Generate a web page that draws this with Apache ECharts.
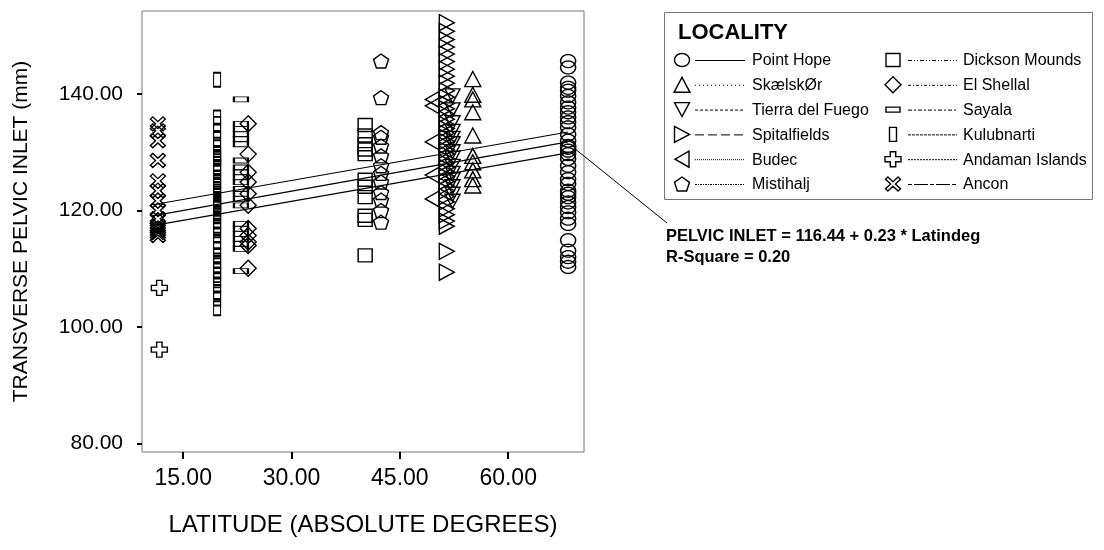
<!DOCTYPE html>
<html>
<head>
<meta charset="utf-8">
<script src="https://cdn.jsdelivr.net/npm/echarts@6/dist/echarts.min.js"></script>
<style>html,body{margin:0;padding:0;background:#fff}#c{width:1104px;height:550px}</style>
</head>
<body>
<div id="c"></div>
<script>
// ---------- DATA ----------
const xTicks = [15, 30, 45, 60];
const yTicks = [80, 100, 120, 140];

const localities = ['Point Hope', 'SkælskØr', 'Tierra del Fuego', 'Spitalfields', 'Budec', 'Mistihalj',
                    'Dickson Mounds', 'El Shellal', 'Sayala', 'Kulubnarti', 'Andaman Islands', 'Ancon'];

// latitude (absolute degrees) of each locality
const latPointHope = 68.3;
const latSkaelskor = 55.1;
const latTierra = 52.3;
const latSpitalfields = 51.5;
const latBudec = 49.5;
const latMistihalj = 42.4;
const latDickson = 40.2;
const latElShellal = 24.0;
const latSayala = 23.0;
const latKulubnarti = 19.7;
const latAndaman = 11.7;
const latAncon = 11.5;

// transverse pelvic inlet (mm)
const pointHope = [145.7, 144.6, 142.0, 141.1, 140.6, 139.7, 138.6, 137.7, 136.9, 136.0, 135.2, 134.3, 133.1,
  132.0, 131.1, 130.3, 129.7, 128.9, 127.7, 126.6, 125.4, 124.6, 123.4, 122.3, 121.4, 120.6, 119.7, 118.6,
  117.7, 114.9, 113.1, 112.0, 111.2, 110.3, 130.8, 122.9];
const skaelskor = [142.6, 139.9, 139.1, 136.9, 132.9, 129.4, 128.3, 126.9, 125.4, 124.3];
const tierra = [139.7, 137.3, 135.1, 133.6, 132.4, 131.5, 130.1, 129.0, 127.6, 126.4, 125.3, 124.1, 122.8, 121.6];
const spitalfields = [152.3, 150.8, 149.4, 148.1, 146.9, 145.6, 144.3, 143.1, 141.9, 140.6, 139.5, 138.4, 137.5,
  136.6, 135.7, 134.8, 134.1, 133.3, 132.6, 131.9, 131.2, 130.4, 129.7, 128.9, 128.2, 127.4, 126.7, 125.9,
  125.0, 124.2, 123.4, 122.4, 121.5, 120.3, 119.3, 118.2, 117.3, 113.0, 109.4];
const budec = [139.1, 138.0, 131.8, 126.1, 122.0];
const mistihalj = [145.7, 139.4, 133.4, 132.6, 131.1, 129.4, 127.7, 126.4, 124.9, 123.1, 121.8, 120.0, 118.0];
const dickson = [134.7, 132.9, 131.4, 130.5, 129.7, 125.3, 124.1, 122.3, 119.1, 118.4, 112.3];
const elShellal = [134.9, 129.7, 126.6, 124.9, 122.9, 120.9, 116.9, 115.7, 114.6, 114.0, 110.1];
const sayala = [139.1, 134.9, 134.0, 133.1, 132.3, 131.4, 128.6, 127.4, 126.6, 125.7, 124.9, 123.7, 122.9, 122.0,
  120.9, 117.7, 116.9, 116.0, 115.1, 114.3, 113.4, 109.6];
const kulubnarti = [142.5, 136.0, 134.9, 133.7, 132.3, 130.9, 129.7, 129.2, 128.9, 128.0, 127.5, 126.9, 125.7,
  124.9, 124.2, 123.7, 122.9, 122.0, 121.6, 121.1, 120.8, 120.3, 119.5, 119.1, 118.3, 117.4, 116.6, 115.7,
  114.6, 113.4, 112.3, 111.4, 110.6, 109.7, 108.9, 108.0, 107.1, 106.0, 104.9, 103.2];
const andaman = [106.7, 96.1];
const ancon = [134.9, 133.7, 132.0, 128.6, 125.1, 123.4, 121.7, 120.0, 118.6, 117.4, 117.0, 116.6, 116.2, 115.7];

// regression line and its band: [latitude, mm] end points
const fitLine = [[10.8, 119.1], [68.3, 131.8]];
const upperLine = [[10.8, 121.0], [68.3, 133.5]];
const lowerLine = [[10.8, 117.4], [68.3, 129.9]];

const equationText = 'PELVIC INLET = 116.44 + 0.23 * Latindeg';
const rSquareText = 'R-Square = 0.20';

// ---------- STYLE ----------
const FONT = '"Liberation Sans", Arial, Helvetica, sans-serif';
const ellipsePts = [];
for (let k = 0; k < 32; k++) {
  const a = k / 32 * Math.PI * 2;
  ellipsePts.push([5 + 5 * Math.cos(a), 5 + 5 * Math.sin(a)]);
}
const SH = {
  circle: ellipsePts,
  triUp: [[5, 0], [10, 10], [0, 10]],
  triDown: [[0, 0], [10, 0], [5, 10]],
  triRight: [[0, 0], [10, 5], [0, 10]],
  triLeft: [[10, 0], [0, 5], [10, 10]],
  pentagon: [[5, 0], [10, 3.8], [8.1, 10], [1.9, 10], [0, 3.8]],
  rect: [[0, 0], [10, 0], [10, 10], [0, 10]],
  diamond: [[5, 0], [10, 5], [5, 10], [0, 5]],
  plus: [[3.3, 0], [6.7, 0], [6.7, 3.3], [10, 3.3], [10, 6.7], [6.7, 6.7], [6.7, 10], [3.3, 10], [3.3, 6.7], [0, 6.7], [0, 3.3], [3.3, 3.3]],
  cross: [[0, 1.6], [1.6, 0], [5, 3.4], [8.4, 0], [10, 1.6], [6.6, 5], [10, 8.4], [8.4, 10], [5, 6.6], [1.6, 10], [0, 8.4], [3.4, 5]]
};
function toPath(pts) {
  return 'path://' + pts.map((p, i) => (i ? 'L' : 'M') + p[0].toFixed(3) + ',' + p[1].toFixed(3)).join(' ') + ' Z';
}
const seriesDefs = [
  {name: localities[0], lat: latPointHope, vals: pointHope, sym: SH.circle, size: [15, 13], dash: null},
  {name: localities[1], lat: latSkaelskor, vals: skaelskor, sym: SH.triUp, size: [16, 15], dash: [1, 3]},
  {name: localities[2], lat: latTierra, vals: tierra, sym: SH.triDown, size: [15, 14], dash: [3, 2]},
  {name: localities[3], lat: latSpitalfields, vals: spitalfields, sym: SH.triRight, size: [15, 16], dash: [9, 4]},
  {name: localities[4], lat: latBudec, vals: budec, sym: SH.triLeft, size: [14, 16], dash: [1, 1]},
  {name: localities[5], lat: latMistihalj, vals: mistihalj, sym: SH.pentagon, size: [15, 14], dash: [2, 1, 1, 1]},
  {name: localities[6], lat: latDickson, vals: dickson, sym: SH.rect, size: [14, 13], dash: [4, 2, 1, 2, 1, 2]},
  {name: localities[7], lat: latElShellal, vals: elShellal, sym: SH.diamond, size: [16, 16], dash: [3, 2, 1, 2]},
  {name: localities[8], lat: latSayala, vals: sayala, sym: SH.rect, size: [14, 5], dash: [4, 2, 2, 2]},
  {name: localities[9], lat: latKulubnarti, vals: kulubnarti, sym: SH.rect, size: [7, 14], dash: [3, 1]},
  {name: localities[10], lat: latAndaman, vals: andaman, sym: SH.plus, size: [16, 15], dash: [2, 1]},
  {name: localities[11], lat: latAncon, vals: ancon, sym: SH.cross, size: [15, 14], dash: [4, 2, 14, 2]}
];

const series = seriesDefs.map(d => ({
  name: d.name,
  type: 'scatter',
  data: d.vals.map(v => [d.lat, v]),
  symbol: toPath(d.sym),
  symbolSize: d.size,
  symbolKeepAspect: false,
  itemStyle: {color: 'rgba(0,0,0,0)', borderColor: '#000', borderWidth: 1.4, opacity: 1},
  emphasis: {disabled: true},
  silent: true,
  z: 3
}));
[fitLine, upperLine, lowerLine].forEach((ln, i) => {
  series.push({
    name: ['fit', 'upper', 'lower'][i],
    type: 'line',
    data: ln,
    showSymbol: false,
    symbol: 'none',
    lineStyle: {color: '#000', width: 1.2},
    silent: true,
    z: 2
  });
});

// ---------- LEGEND (graphic) ----------
const graphic = [];
graphic.push({type: 'rect', shape: {x: 664.5, y: 12.5, width: 428, height: 187},
  style: {fill: '#fff', stroke: '#777', lineWidth: 1}, silent: true, z: 10});
graphic.push({type: 'text', x: 678, y: 33, silent: true, z: 11,
  style: {text: 'LOCALITY', font: 'bold 22px ' + FONT, fill: '#000', verticalAlign: 'middle', align: 'left'}});
seriesDefs.forEach((d, i) => {
  const col = i < 6 ? 0 : 1;
  const row = i % 6;
  const cy = 60 + row * 24.8;
  const sx = col === 0 ? 682 : 893;
  const lx1 = col === 0 ? 695 : 908;
  const lx2 = col === 0 ? 745 : 957;
  const tx = col === 0 ? 752 : 963;
  const pts = d.sym.map(p => [sx - d.size[0] / 2 + p[0] / 10 * d.size[0], cy - d.size[1] / 2 + p[1] / 10 * d.size[1]]);
  graphic.push({type: 'polygon', silent: true, z: 11,
    shape: {points: pts},
    style: {fill: 'rgba(0,0,0,0)', stroke: '#000', lineWidth: 1.4}});
  graphic.push({type: 'line', silent: true, z: 11,
    shape: {x1: lx1, y1: cy + 0.5, x2: lx2, y2: cy + 0.5},
    style: {stroke: '#000', lineWidth: 1, lineDash: d.dash || null}});
  graphic.push({type: 'text', x: tx, y: cy + 1, silent: true, z: 11,
    style: {text: d.name, font: '16px ' + FONT, fill: '#000', verticalAlign: 'middle', align: 'left'}});
});
// annotation
graphic.push({type: 'line', silent: true, z: 11, shape: {x1: 574, y1: 148, x2: 667, y2: 223},
  style: {stroke: '#000', lineWidth: 1}});
graphic.push({type: 'text', x: 666, y: 236, silent: true, z: 11,
  style: {text: equationText, font: 'bold 16.5px ' + FONT, fill: '#000', verticalAlign: 'middle', align: 'left'}});
graphic.push({type: 'text', x: 666, y: 257, silent: true, z: 11,
  style: {text: rSquareText, font: 'bold 16.5px ' + FONT, fill: '#000', verticalAlign: 'middle', align: 'left'}});

// ---------- CHART ----------
const chart = echarts.init(document.getElementById('c'), null, {renderer: 'canvas'});
chart.setOption({
  animation: false,
  backgroundColor: '#fff',
  textStyle: {fontFamily: FONT},
  grid: {left: 142, top: 11, width: 442, height: 441, show: true, borderColor: '#777', borderWidth: 1},
  xAxis: {
    type: 'value', min: 9.3, max: 70.5,
    name: 'LATITUDE (ABSOLUTE DEGREES)', nameLocation: 'middle', nameGap: 61,
    nameTextStyle: {fontSize: 24, color: '#000', fontFamily: FONT},
    axisLine: {show: false}, splitLine: {show: false},
    axisTick: {show: true, length: 7, lineStyle: {color: '#000', width: 2}, customValues: xTicks},
    axisLabel: {customValues: xTicks, formatter: v => Number(v).toFixed(2), fontSize: 23, color: '#000', margin: 15, fontFamily: FONT}
  },
  yAxis: {
    type: 'value', min: 78.5, max: 154.3,
    name: 'TRANSVERSE PELVIC INLET (mm)', nameLocation: 'middle', nameGap: 110, nameRotate: 90,
    nameTextStyle: {fontSize: 21, color: '#000', fontFamily: FONT},
    axisLine: {show: false}, splitLine: {show: false},
    axisTick: {show: true, length: 5, lineStyle: {color: '#000', width: 2}, customValues: yTicks},
    axisLabel: {customValues: yTicks, formatter: v => Number(v).toFixed(2), fontSize: 21, color: '#000', margin: 19, fontFamily: FONT}
  },
  series: series,
  graphic: graphic
});
</script>
</body>
</html>
